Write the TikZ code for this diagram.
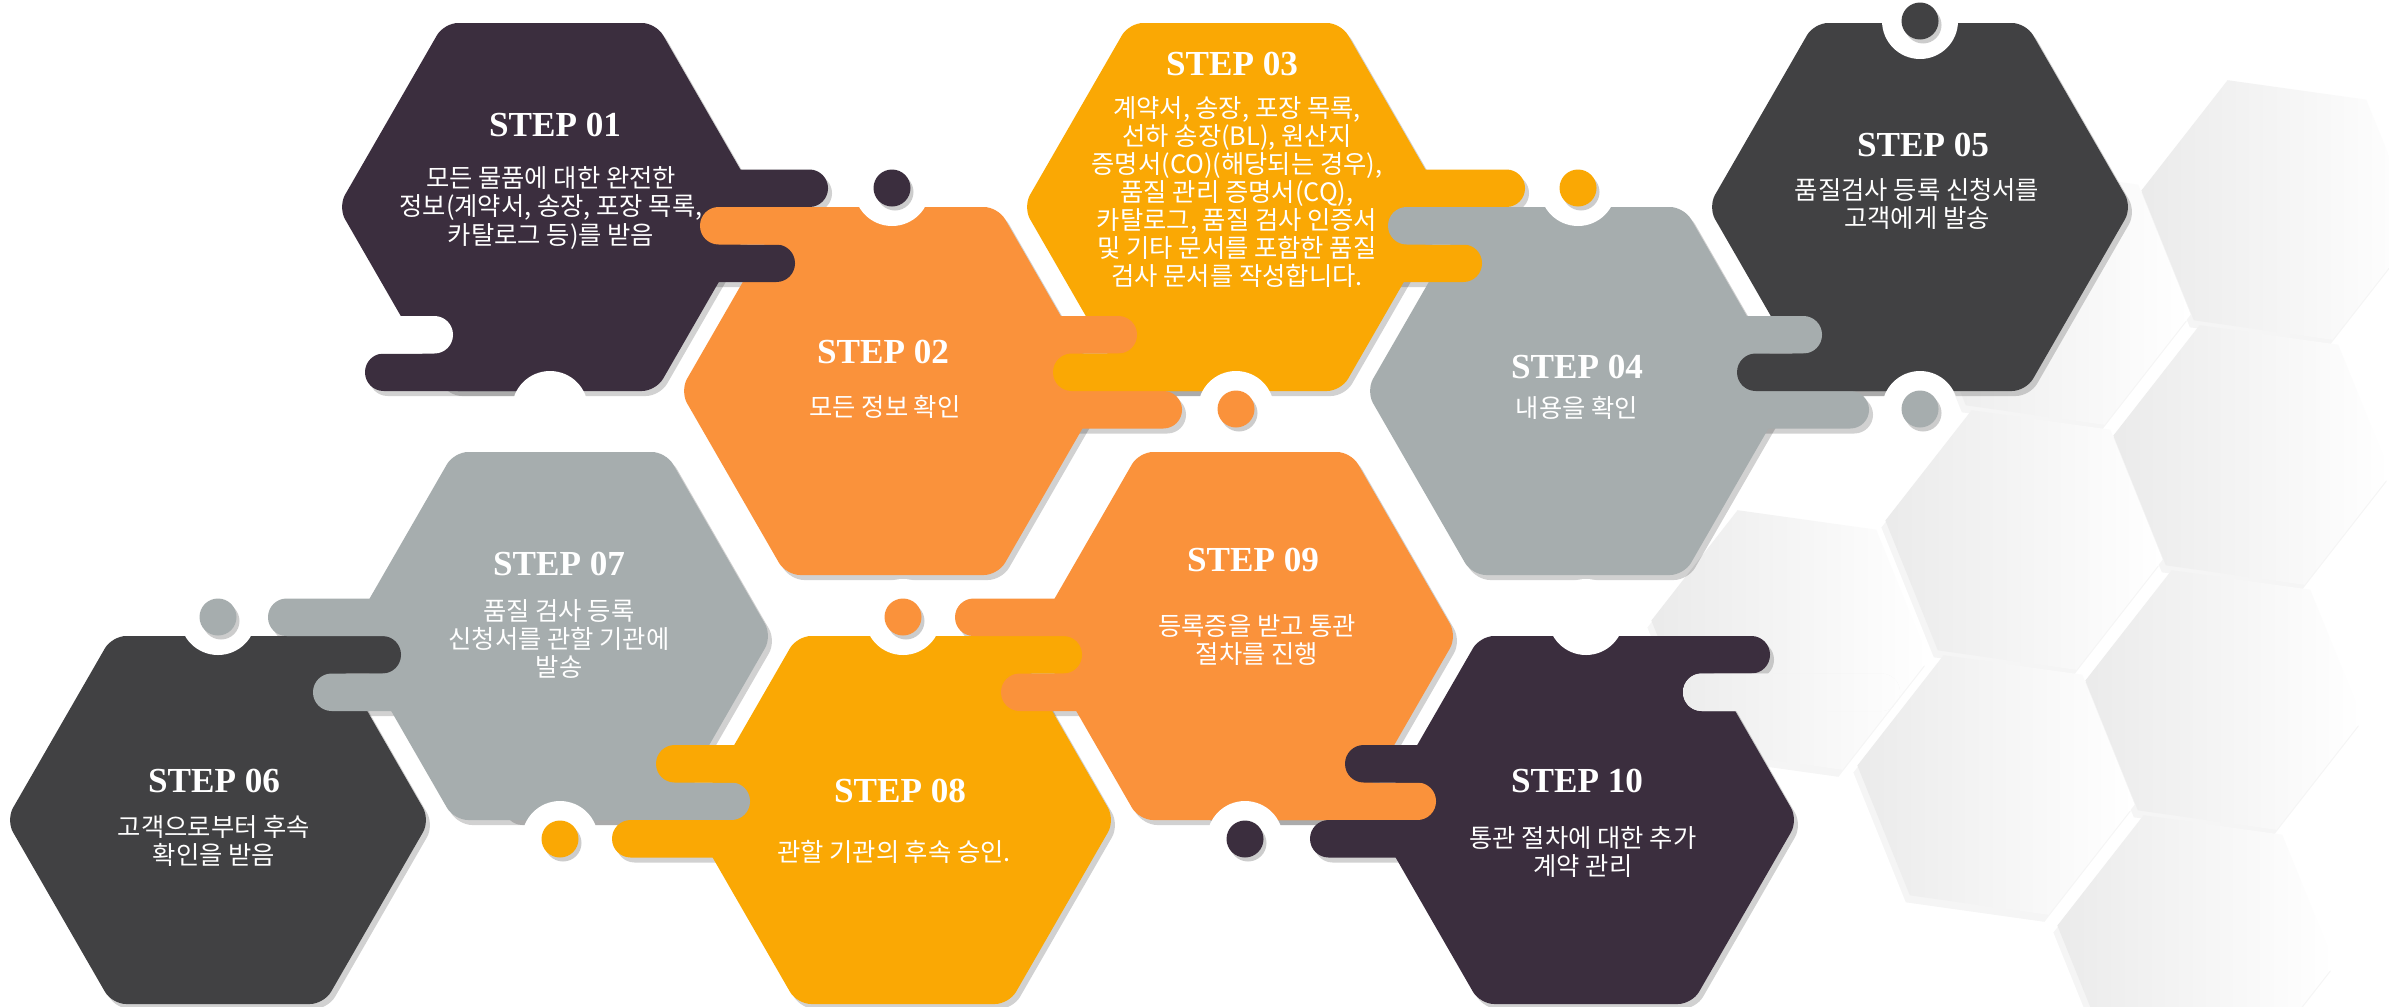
\documentclass[tikz,border=0pt]{standalone}
\usepackage{fontspec}
\setmainfont{Liberation Serif}
\newfontfamily\krfont{Noto Sans CJK KR}
\usetikzlibrary{calc}
\definecolor{stepplum}{RGB}{59,46,62}
\definecolor{stepcharcoal}{RGB}{65,65,67}
\definecolor{steporange}{RGB}{250,146,59}
\definecolor{stepamber}{RGB}{250,168,4}
\definecolor{stepgray}{RGB}{166,173,174}
\tikzstyle{title} = [text=white, inner sep=0pt, font=\bfseries\fontsize{10}{12}\selectfont]
\tikzstyle{body} = [text=white, inner sep=0pt, align=center, font=\krfont\fontsize{7.2}{8}\selectfont]
\tikzstyle{shadowfill} = [fill=black, opacity=0.18, shift={(4,5)}]
\tikzstyle{bghex} = [left color=black!8, right color=white]
\tikzstyle{bgshadow} = [fill=black, opacity=0.04, shift={(-4,7)}]
\tikzset{
  hexagon/.style 2 args={rounded corners=4pt,
    insert path={(#1-212,#2) -- (#1-106,#2-184) -- (#1+106,#2-184) -- (#1+212,#2) -- (#1+106,#2+184) -- (#1-106,#2+184) -- cycle}},
  tab/.style n args={3}{rounded corners=5.3pt,
    insert path={(#1,#3) rectangle (#2,#3+37.5)}},
  honeycomb/.style={insert path={(8:140) -- (68:140) -- (128:140) -- (188:140) -- (248:140) -- (308:140) -- cycle}},
}
\newcommand{\backdrop}{%
  \fill[white] (0,0) rectangle (2389,1006);
  \foreach \bx/\by in {2280/210,2052/295,2252/455,2024/540,1790/640,2224/700,1996/785,2196/945}
    \path[bgshadow, shift={(\bx,\by)}, honeycomb];
  \foreach \bx/\by in {2280/210,2052/295,2252/455,2024/540,1790/640,2224/700,1996/785,2196/945}
    \path[bghex, shift={(\bx,\by)}, honeycomb];
}

\begin{document}
\begin{tikzpicture}[x=0.01cm, y=-0.01cm]
\useasboundingbox (0,0) rectangle (2389,1006);
\backdrop

\foreach \cx/\cy in {550/207,892/391,1235/207,1578/391,1920/207,218/820,560/636,903/820,1245/636,1586/820}
  \path[shadowfill, hexagon={\cx}{\cy}];
\foreach \xa/\xb/\ya in {600/828/169.5,600/795/244.5,365/550/353.5,700/892/207,892/1137/316,892/1182/391,
    1053/1235/353.5,1235/1525/169.5,1235/1482/244.5,1388/1578/207,1578/1822/316,1578/1869/391,1737/1920/353.5,
    260/401/636,268/560/598.5,313/560/673.5,500/750/782.5,656/903/745,612/903/820,903/1082/636,
    955/1245/598.5,1001/1245/673.5,1200/1436/782.5,1345/1586/745,1310/1586/820,1586/1770/636}
  \path[shadowfill, tab={\xa}{\xb}{\ya}];

\foreach \cx/\cy/\col in {550/207/stepplum,892/391/steporange,1235/207/stepamber,1578/391/stepgray,1920/207/stepcharcoal,
    218/820/stepcharcoal,560/636/stepgray,903/820/stepamber,1245/636/steporange,1586/820/stepplum}
  \path[fill=\col, hexagon={\cx}{\cy}];
\foreach \xa/\xb/\ya/\col in {600/828/169.5/stepplum,600/795/244.5/stepplum,365/550/353.5/stepplum,
    700/892/207/steporange,892/1137/316/steporange,892/1182/391/steporange,
    1053/1235/353.5/stepamber,1235/1525/169.5/stepamber,1235/1482/244.5/stepamber,
    1388/1578/207/stepgray,1578/1822/316/stepgray,1578/1869/391/stepgray,1737/1920/353.5/stepcharcoal,
    260/401/636/stepcharcoal,268/560/598.5/stepgray,313/560/673.5/stepgray,500/750/782.5/stepgray,
    656/903/745/stepamber,612/903/820/stepamber,903/1082/636/stepamber,
    955/1245/598.5/steporange,1001/1245/673.5/steporange,1200/1436/782.5/steporange,
    1345/1586/745/stepplum,1310/1586/820/stepplum,1586/1770/636/stepplum}
  \path[fill=\col, tab={\xa}{\xb}{\ya}];

\foreach \nx/\ny in {550/409,892/188,1236/409,1578/188,1920/409,1920/21,218/617,903/617,1586/617,560/839,1245/839}
  {\begin{scope}\clip (\nx,\ny) circle[radius=38]; \backdrop\end{scope}}
\begin{scope}\clip[rounded corners=5.3pt] (300,316) rectangle (453,353.5); \backdrop\end{scope}
\begin{scope}\clip[rounded corners=5.3pt] (1683,673.5) rectangle (1900,711); \backdrop\end{scope}

\foreach \dx/\dy/\col in {892/188/stepplum,1236/409/steporange,1578/188/stepamber,1920/409/stepgray,1920/21/stepcharcoal,
    218/617/stepgray,903/617/steporange,560/839/stepamber,1245/839/stepplum}
  {\fill[black, opacity=0.2] (\dx+3,\dy+4) circle[radius=18.5];
   \fill[\col] (\dx,\dy) circle[radius=18.5];}

\node[title] (t1) at (555,125) {STEP 01};
\node[body] (b1) at (551,208) {모든 물품에 대한 완전한\\정보(계약서, 송장, 포장 목록,\\카탈로그 등)를 받음};
\node[title] (t2) at (883,352) {STEP 02};
\node[body] (b2) at (885,407) {모든 정보 확인};
\node[title] (t3) at (1232,64) {STEP 03};
\node[body] (b3) at (1237,192) {계약서, 송장, 포장 목록,\\선하 송장(BL), 원산지\\증명서(CO)(해당되는 경우),\\품질 관리 증명서(CQ),\\카탈로그, 품질 검사 인증서\\및 기타 문서를 포함한 품질\\검사 문서를 작성합니다.};
\node[title] (t4) at (1577,367) {STEP 04};
\node[body] (b4) at (1577,408) {내용을 확인};
\node[title] (t5) at (1923,145) {STEP 05};
\node[body] (b5) at (1917,204) {품질검사 등록 신청서를\\고객에게 발송};
\node[title] (t6) at (214,781) {STEP 06};
\node[body] (b6) at (214,841) {고객으로부터 후속\\확인을 받음};
\node[title] (t7) at (559,564) {STEP 07};
\node[body] (b7) at (559,639) {품질 검사 등록\\신청서를 관할 기관에\\발송};
\node[title] (t8) at (900,791) {STEP 08};
\node[body] (b8) at (894,852) {관할 기관의 후속 승인.};
\node[title] (t9) at (1253,560) {STEP 09};
\node[body] (b9) at (1257,640) {등록증을 받고 통관\\절차를 진행};
\node[title] (t10) at (1577,781) {STEP 10};
\node[body] (b10) at (1583,852) {통관 절차에 대한 추가\\계약 관리};
\end{tikzpicture}
\end{document}
